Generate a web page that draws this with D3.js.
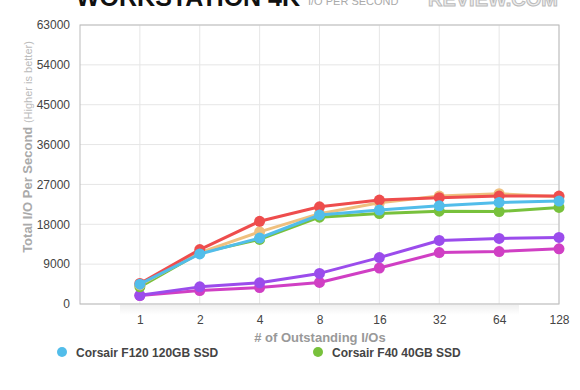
<!DOCTYPE html>
<html>
<head>
<meta charset="utf-8">
<script src="https://cdn.jsdelivr.net/npm/d3@7/dist/d3.min.js"></script>
<style>
  body { margin: 0; background: #fff; }
  svg { display: block; font-family: "Liberation Sans", Arial, sans-serif; }
</style>
</head>
<body>
<div id="chart-area"></div>
<script>
// data
var categories = ["1", "2", "4", "8", "16", "32", "64", "128"]
var yTicks = [0, 9000, 18000, 27000, 36000, 45000, 54000, 63000]

var f120 = [4480, 11300, 14900, 20100, 21200, 22180, 22940, 23240]
var f40 = [3870, 11540, 14580, 19600, 20430, 20960, 20890, 21800]
var tanSeries = [4300, 11600, 16300, 20400, 22860, 24380, 24900, 24230]
var redSeries = [4630, 12300, 18680, 21950, 23470, 24000, 24380, 24380]
var purpleSeries = [1970, 3870, 4780, 6910, 10480, 14350, 14810, 15040]
var magentaSeries = [1900, 3040, 3720, 4860, 8130, 11620, 11850, 12460]

// drawn bottom to top
var series = [
	{ key: "magenta", color: "#d03fc4", values: magentaSeries },
	{ key: "purple", color: "#9b4cec", values: purpleSeries },
	{ key: "f40", name: "Corsair F40 40GB SSD", color: "#78c13c", values: f40 },
	{ key: "tan", color: "#efc07f", values: tanSeries },
	{ key: "red", color: "#ee4d4d", values: redSeries },
	{ key: "f120", name: "Corsair F120 120GB SSD", color: "#52bdea", values: f120 }
]
var legendItems = [series[5], series[2]]

var W = 580, H = 390
var plot = { left: 80, right: 559, top: 25, bottom: 304 }

var svg = d3.select("#chart-area")
	.append("svg")
		.attr("width", W)
		.attr("height", H)

// scales
var colW = (plot.right - plot.left) / 8
var x = d3.scalePoint()
	.domain(categories)
	.range([plot.left + colW, plot.right])
var y = d3.scaleLinear()
	.domain([0, 63000])
	.range([plot.bottom, plot.top])

// title (cut off at the top, as in the picture)
svg.append("text")
	.attr("x", 76)
	.attr("y", 6)
	.attr("font-size", "25px")
	.attr("font-weight", "bold")
	.attr("fill", "#111")
	.text("WORKSTATION 4K")
svg.append("text")
	.attr("x", 308)
	.attr("y", 5)
	.attr("font-size", "11px")
	.attr("fill", "#aaa")
	.text("I/O PER SECOND")
svg.append("text")
	.attr("x", 558)
	.attr("y", 6)
	.attr("text-anchor", "end")
	.attr("font-size", "20px")
	.attr("font-weight", "bold")
	.attr("fill", "#eee")
	.attr("stroke", "#bbb")
	.attr("stroke-width", 1)
	.text("REVIEW.COM")

// faint shadow under the plot
var defs = svg.append("defs")
var grad = defs.append("linearGradient")
	.attr("id", "shade")
	.attr("x1", 0).attr("y1", 0).attr("x2", 0).attr("y2", 1)
grad.append("stop").attr("offset", "0%").attr("stop-color", "#000").attr("stop-opacity", 0.06)
grad.append("stop").attr("offset", "100%").attr("stop-color", "#000").attr("stop-opacity", 0)
svg.append("rect")
	.attr("x", plot.left + 40)
	.attr("y", plot.bottom + 1)
	.attr("width", plot.right - plot.left - 80)
	.attr("height", 10)
	.attr("fill", "url(#shade)")

// grid
var grid = svg.append("g")
grid.selectAll(".hgrid")
	.data(yTicks)
	.enter().append("line")
	.attr("x1", plot.left).attr("x2", plot.right)
	.attr("y1", d => y(d)).attr("y2", d => y(d))
	.attr("stroke", "#e6e6e6")
grid.selectAll(".vgrid")
	.data(categories)
	.enter().append("line")
	.attr("x1", d => x(d)).attr("x2", d => x(d))
	.attr("y1", plot.top).attr("y2", plot.bottom)
	.attr("stroke", "#e6e6e6")
svg.append("rect")
	.attr("x", plot.left)
	.attr("y", plot.top)
	.attr("width", plot.right - plot.left)
	.attr("height", plot.bottom - plot.top)
	.attr("fill", "none")
	.attr("stroke", "#bbb")

// Y Axis
var yAxisCall = d3.axisLeft(y)
	.tickValues(yTicks)
	.tickSize(0)
	.tickPadding(10)
	.tickFormat(d => d)
var yAxis = svg.append("g")
	.attr("transform", "translate(" + plot.left + ",0)")
	.call(yAxisCall)
yAxis.select(".domain").remove()
yAxis.selectAll("text")
	.attr("font-size", "12px")
	.attr("font-family", "'Liberation Sans', Arial, sans-serif")
	.attr("fill", "#444")

// X Axis
var xAxisCall = d3.axisBottom(x)
	.tickSize(0)
	.tickPadding(11)
var xAxis = svg.append("g")
	.attr("transform", "translate(0," + plot.bottom + ")")
	.call(xAxisCall)
xAxis.select(".domain").remove()
xAxis.selectAll("text")
	.attr("font-size", "12px")
	.attr("font-family", "'Liberation Sans', Arial, sans-serif")
	.attr("fill", "#444")

// axis titles
svg.append("text")
	.attr("x", 320)
	.attr("y", 342)
	.attr("text-anchor", "middle")
	.attr("font-size", "13px")
	.attr("font-weight", "bold")
	.attr("fill", "#999")
	.text("# of Outstanding I/Os")
var yLabel = svg.append("text")
	.attr("transform", "translate(32,147) rotate(-90)")
	.attr("text-anchor", "middle")
	.attr("font-weight", "bold")
	.attr("fill", "#aaa")
yLabel.append("tspan")
	.attr("font-size", "13px")
	.text("Total I/O Per Second ")
yLabel.append("tspan")
	.attr("font-size", "11px")
	.attr("font-weight", "normal")
	.attr("fill", "#bbb")
	.text(" (Higher is better)")

// lines and points
var line = d3.line()
	.x((d, i) => x(categories[i]))
	.y(d => y(d))

series.forEach(s => {
	var sg = svg.append("g")
	sg.append("path")
		.attr("d", line(s.values))
		.attr("fill", "none")
		.attr("stroke", s.color)
		.attr("stroke-width", 3)
		.attr("stroke-linejoin", "round")
	sg.selectAll("circle")
		.data(s.values)
		.enter().append("circle")
		.attr("cx", (d, i) => x(categories[i]))
		.attr("cy", d => y(d))
		.attr("r", 5.5)
		.attr("fill", s.color)
})

// legend
legendItems.forEach((s, i) => {
	var row = svg.append("g")
		.attr("transform", "translate(" + (62 + i * 256) + ",352)")
	row.append("circle")
		.attr("r", 5)
		.attr("fill", s.color)
	row.append("text")
		.attr("x", 14)
		.attr("y", 4.5)
		.attr("font-size", "12px")
		.attr("font-weight", "bold")
		.attr("fill", "#444")
		.text(s.name)
})
</script>
</body>
</html>
